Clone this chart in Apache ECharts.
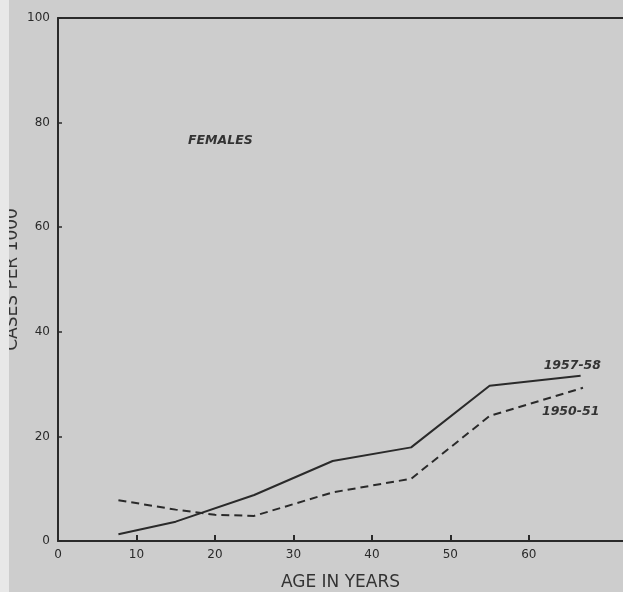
<!DOCTYPE html>
<html>
<head>
<meta charset="utf-8">
<script src="https://cdn.jsdelivr.net/npm/echarts@6/dist/echarts.min.js"></script>
<style>html,body{margin:0;padding:0;background:#cdcdcd;}#c{width:623px;height:592px;}</style>
</head>
<body>
<div id="c"></div>
<script>
var seriesNames = ['1957-58', '1950-51'];
var ages1957 = [7.7, 15, 25, 35, 45, 55, 66.6];
var cases1957 = [1.3, 3.7, 8.8, 15.3, 17.9, 29.7, 31.6];
var ages1950 = [7.7, 15, 20, 25, 35, 45, 55, 66.9];
var cases1950 = [7.8, 6.0, 5.0, 4.8, 9.3, 11.9, 23.9, 29.3];
var yTicks = [0, 20, 40, 60, 80, 100];
var xTicks = [0, 10, 20, 30, 40, 50, 60];

function pairs(xs, ys) { return xs.map(function (x, i) { return [x, ys[i]]; }); }

var ink = '#2a2a2a';
var chart = echarts.init(document.getElementById('c'));
chart.setOption({
  backgroundColor: '#cdcdcd',
  animation: false,
  title: {
    text: 'FEMALES', left: 183, top: 129,
    textStyle: { fontFamily: 'DejaVu Sans', fontSize: 12.5, fontStyle: 'italic', fontWeight: 'bold', color: '#333' }
  },
  grid: { left: 58, right: 0, top: 18, bottom: 51, show: false, containLabel: false, outerBoundsMode: 'none' },
  xAxis: [{
    type: 'value', min: 0, max: 72, position: 'bottom',
    name: 'AGE IN YEARS', nameLocation: 'middle', nameGap: 33, nameMoveOverlap: false,
    nameTextStyle: { fontFamily: 'DejaVu Sans', fontSize: 17, color: '#333' },
    axisLine: { onZero: false, lineStyle: { color: ink, width: 2 } },
    axisTick: { show: true, inside: true, length: 6, customValues: xTicks, lineStyle: { color: ink, width: 2 } },
    axisLabel: {
      margin: 8, color: '#2a2a2a', fontFamily: 'DejaVu Sans', fontSize: 12,
      customValues: xTicks
    },
    splitLine: { show: false }
  }, {
    type: 'value', position: 'top', min: 0, max: 72,
    axisLine: { show: true, onZero: false, lineStyle: { color: ink, width: 2 } },
    axisTick: { show: false }, axisLabel: { show: false }, splitLine: { show: false }
  }],
  yAxis: {
    type: 'value', min: 0, max: 100, interval: 20,
    name: 'CASES PER 1000', nameLocation: 'middle', nameGap: 37, nameMoveOverlap: false,
    nameTextStyle: { fontFamily: 'DejaVu Sans', fontSize: 17, color: '#333' },
    axisLine: { show: true, onZero: false, lineStyle: { color: ink, width: 2 } },
    axisTick: { show: true, inside: true, length: 4, lineStyle: { color: ink, width: 1.5 } },
    axisLabel: {
      margin: 8, color: '#2a2a2a', fontFamily: 'DejaVu Sans', fontSize: 12,
      formatter: function (v) { return yTicks.indexOf(v) >= 0 ? String(v) : ''; }
    },
    splitLine: { show: false }
  },
  series: [{
    name: seriesNames[0], type: 'line', data: pairs(ages1957, cases1957),
    showSymbol: false, symbol: 'none',
    lineStyle: { color: ink, width: 2 },
    endLabel: {
      show: true, formatter: seriesNames[0], offset: [-45, -10],
      fontFamily: 'DejaVu Sans', fontSize: 12.5, fontStyle: 'italic', fontWeight: 'bold', color: '#333'
    }
  }, {
    name: seriesNames[1], type: 'line', data: pairs(ages1950, cases1950),
    showSymbol: false, symbol: 'none',
    lineStyle: { color: ink, width: 2, type: [8, 5] },
    endLabel: {
      show: true, formatter: seriesNames[1], offset: [-49, 24],
      fontFamily: 'DejaVu Sans', fontSize: 12.5, fontStyle: 'italic', fontWeight: 'bold', color: '#333'
    }
  }],
  graphic: [{
    type: 'rect', left: 0, top: 0, z: 100,
    shape: { width: 9, height: 592 },
    style: { fill: '#e8e8e8' }
  }]
});
</script>
</body>
</html>
